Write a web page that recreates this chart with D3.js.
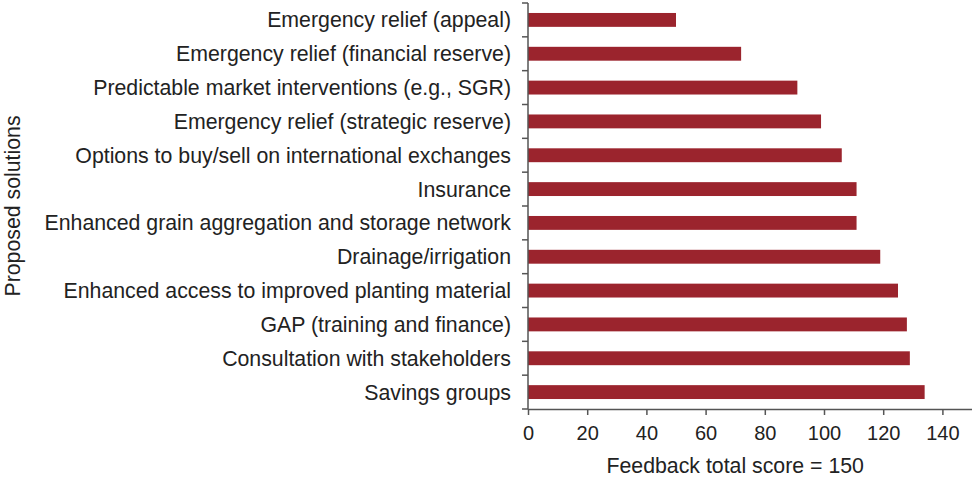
<!DOCTYPE html>
<html>
<head>
<meta charset="utf-8">
<script src="https://cdn.jsdelivr.net/npm/d3@7"></script>
<style>
  html, body { margin: 0; padding: 0; background: #fff; }
  svg { display: block; font-family: "Liberation Sans", Arial, Helvetica, sans-serif; }
</style>
</head>
<body>
<svg id="chart" width="972" height="481"></svg>
<script>
// Proposed solutions, top to bottom
const categories = [
  "Emergency relief (appeal)",
  "Emergency relief (financial reserve)",
  "Predictable market interventions (e.g., SGR)",
  "Emergency relief (strategic reserve)",
  "Options to buy/sell on international exchanges",
  "Insurance",
  "Enhanced grain aggregation and storage network",
  "Drainage/irrigation",
  "Enhanced access to improved planting material",
  "GAP (training and finance)",
  "Consultation with stakeholders",
  "Savings groups"
];
const scores = [50, 72, 91, 99, 106, 111, 111, 119, 125, 128, 129, 134];
const xTicks = [0, 20, 40, 60, 80, 100, 120, 140];
const xTitle = "Feedback total score = 150";
const yTitle = "Proposed solutions";

const svg = d3.select("#chart");
const plotLeft = 528, plotRight = 972, plotTop = 3, plotBottom = 409;
const axisColor = "#555";
const textColor = "#222";

const x = d3.scaleLinear().domain([0, 150]).range([plotLeft, plotRight]);
const y = d3.scaleBand().domain(categories).range([plotTop, plotBottom]).paddingInner(0.59).paddingOuter(0.295);

// bars
svg.append("g").selectAll("rect")
  .data(categories)
  .join("rect")
  .attr("x", x(0))
  .attr("y", d => y(d))
  .attr("width", (d, i) => x(scores[i]) - x(0))
  .attr("height", y.bandwidth())
  .attr("fill", "#9b242d");

// x axis
const xAxis = svg.append("g")
  .attr("transform", `translate(0,${plotBottom})`)
  .call(d3.axisBottom(x).tickValues(xTicks).tickSize(6).tickPadding(11).tickSizeOuter(0));
xAxis.select(".domain").attr("stroke", axisColor).attr("stroke-width", 1.5);
xAxis.selectAll(".tick line").attr("stroke", axisColor).attr("stroke-width", 1.5);
xAxis.selectAll(".tick text").attr("fill", textColor).style("font-size", "20px")
  .style("font-family", "Liberation Sans, Arial, sans-serif");

// y axis line with ticks on category boundaries
const yAxisG = svg.append("g");
yAxisG.append("line")
  .attr("x1", plotLeft).attr("x2", plotLeft)
  .attr("y1", plotTop).attr("y2", plotBottom)
  .attr("stroke", axisColor).attr("stroke-width", 1.5);
const boundaries = d3.range(categories.length + 1)
  .map(i => plotTop + i * (plotBottom - plotTop) / categories.length);
yAxisG.selectAll("line.b")
  .data(boundaries)
  .join("line")
  .attr("class", "b")
  .attr("x1", plotLeft - 6).attr("x2", plotLeft)
  .attr("y1", d => d).attr("y2", d => d)
  .attr("stroke", axisColor).attr("stroke-width", 1.5);

// category labels
yAxisG.selectAll("text")
  .data(categories)
  .join("text")
  .attr("x", 511)
  .attr("y", d => y(d) + y.bandwidth() / 2)
  .attr("dy", "0.35em")
  .attr("text-anchor", "end")
  .attr("fill", textColor)
  .style("font-size", "21.3px")
  .text(d => d);

// axis titles
svg.append("text")
  .attr("x", (x(0) + x(140)) / 2)
  .attr("y", 473)
  .attr("text-anchor", "middle")
  .attr("fill", textColor)
  .style("font-size", "21.3px")
  .text(xTitle);

svg.append("text")
  .attr("transform", `translate(20,${(plotTop + plotBottom) / 2}) rotate(-90)`)
  .attr("text-anchor", "middle")
  .attr("fill", textColor)
  .style("font-size", "21.3px")
  .text(yTitle);
</script>
</body>
</html>
